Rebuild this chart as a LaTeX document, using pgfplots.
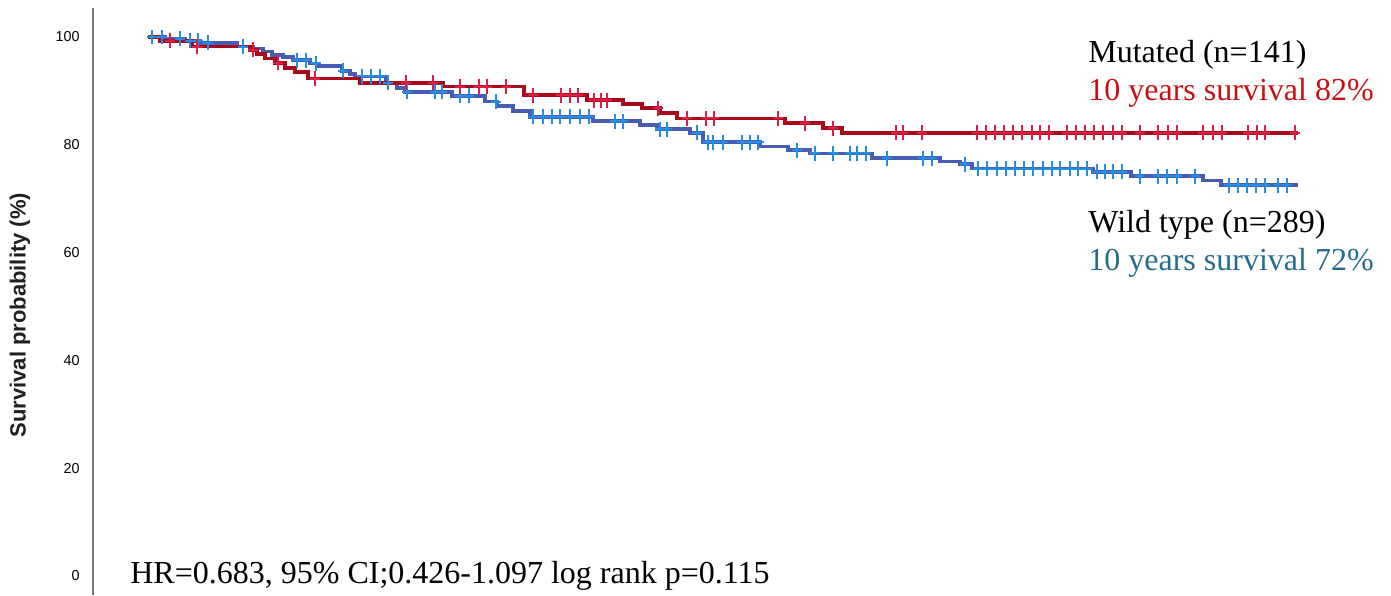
\documentclass[border=0pt]{standalone}
\usepackage{pgfplots}
\pgfplotsset{compat=1.18}
\usepackage{fontspec}
\setmainfont{Liberation Serif}
\newfontfamily\arial{Liberation Sans}

\definecolor{mutline}{RGB}{168,10,28}
\definecolor{mutmark}{RGB}{222,30,70}
\definecolor{wtline}{RGB}{72,92,180}
\definecolor{wtmark}{RGB}{36,142,230}
\definecolor{mutText}{RGB}{200,16,20}
\definecolor{wtText}{RGB}{36,108,140}
\definecolor{axisgray}{RGB}{120,120,120}

% Kaplan-Meier step functions (time in months, survival in %)
\pgfplotstableread{
t s
0 100
1.25 99.3
4.59 98.2
10.64 97.6
11.37 96.8
12.21 96.0
13.25 95.2
14.30 94.3
15.34 93.5
16.70 92.3
22.12 91.5
30.78 90.8
39.23 89.2
45.81 88.3
49.57 87.6
51.55 86.8
53.43 85.9
55.20 84.9
66.47 84.0
70.43 83.1
72.42 82.2
120 82.2
}\mutsteps

\pgfplotstableread{
t s
2.30 99.3
5.11 98.2
10.96 97.6
13.57 95.2
17.43 92.3
26.92 91.5
29.74 91.5
32.56 90.8
34.54 90.8
35.37 90.8
37.36 90.8
40.17 89.2
43.10 89.2
44.04 89.2
44.87 89.2
46.54 88.3
47.27 88.3
47.90 88.3
53.20 86.8
56.24 84.9
58.23 84.9
59.06 84.9
65.74 84.9
68.56 84.0
71.48 83.1
78.05 82.2
78.78 82.2
80.77 82.2
86.51 82.2
87.45 82.2
88.38 82.2
89.32 82.2
90.26 82.2
91.20 82.2
92.24 82.2
93.08 82.2
94.02 82.2
95.90 82.2
96.84 82.2
97.78 82.2
98.71 82.2
99.65 82.2
100.70 82.2
101.64 82.2
103.51 82.2
105.39 82.2
106.44 82.2
107.38 82.2
110.09 82.2
111.13 82.2
112.07 82.2
114.78 82.2
115.72 82.2
116.56 82.2
119.69 82.2
}\mutcens

\pgfplotstableread{
t s
0 100
1.77 99.7
3.86 99.3
5.43 98.9
9.29 98.2
10.96 97.9
12.00 97.3
12.94 96.7
14.09 96.3
15.13 95.7
16.90 95.1
17.74 94.6
20.24 93.7
21.08 93.1
21.60 92.7
24.84 91.5
25.98 90.5
26.82 89.8
31.72 89.1
35.17 88.0
36.42 87.2
38.09 86.3
39.86 85.2
46.44 84.4
51.34 83.7
53.11 82.9
56.56 82.2
57.91 80.5
63.86 79.7
66.78 79.0
69.08 78.4
75.55 77.5
82.64 76.9
84.73 76.4
85.98 75.6
98.61 75.0
102.58 74.2
110.09 73.4
111.97 72.5
120 72.5
}\wtsteps

\pgfplotstableread{
t s
0.42 100
1.46 100
3.34 99.7
4.38 99.3
5.22 99.3
6.26 98.9
9.91 98.2
15.55 95.7
16.49 95.7
17.53 95.1
20.35 93.7
22.33 92.7
23.27 92.7
24.21 92.7
25.04 91.5
27.03 89.8
29.95 89.8
30.68 89.8
32.56 89.1
33.50 89.1
36.30 88.0
40.17 85.2
41.22 85.2
42.16 85.2
42.99 85.2
44.04 85.2
45.08 85.2
46.02 85.2
48.73 84.4
49.57 84.4
53.43 82.9
54.16 82.9
57.29 82.2
58.44 80.5
58.96 80.5
60.00 80.5
61.98 80.5
62.82 80.5
63.70 80.5
67.72 79.0
69.60 78.4
71.48 78.4
73.25 78.4
73.98 78.4
74.92 78.4
77.11 77.5
80.87 77.5
81.81 77.5
85.25 76.4
86.61 75.6
87.55 75.6
88.59 75.6
89.53 75.6
90.47 75.6
91.41 75.6
92.35 75.6
93.39 75.6
94.33 75.6
95.17 75.6
96.21 75.6
97.04 75.6
97.98 75.6
99.03 75.0
99.86 75.0
100.70 75.0
101.64 75.0
103.51 74.2
105.39 74.2
106.33 74.2
107.38 74.2
109.25 74.2
112.80 72.5
113.74 72.5
114.68 72.5
115.62 72.5
116.56 72.5
117.92 72.5
118.85 72.5
}\wtcens

\begin{document}
\begin{tikzpicture}
\begin{axis}[
  scale only axis,
  width=649pt, height=293.5pt,
  xmin=-5.74, xmax=129.71,
  ymin=-3.525, ymax=105.38,
  axis x line=none,
  axis y line*=left,
  y axis line style={draw=axisgray, line width=0.8pt},
  ytick={0,20,40,60,80,100},
  major tick length=0pt,
  /pgf/number format/assume math mode=true,
  yticklabel style={font=\arial\fontsize{7.2}{8}\selectfont, inner sep=0pt, anchor=east, xshift=-6.5pt},
  clip=false,
]
\coordinate (bl) at (rel axis cs:0,0);
\coordinate (tr) at (rel axis cs:1,1);

\addplot[const plot, wtline, line width=1.8pt] table[x=t, y=s] {\wtsteps};
\addplot[const plot, mutline, line width=1.8pt] table[x=t, y=s] {\mutsteps};
\addplot[only marks, mark=+, mark size=3.4pt, mark options={wtmark, line width=1pt, xscale=0.75, yscale=1.1}] table[x=t, y=s] {\wtcens};
\addplot[only marks, mark=+, mark size=3.4pt, mark options={mutmark, line width=1pt, xscale=0.75, yscale=1.1}] table[x=t, y=s] {\mutcens};

\node[anchor=base west, inner sep=0pt, font=\fontsize{16}{19}\selectfont] at (axis cs:98.09,95.18) {Mutated (n=141)};
\node[anchor=base west, inner sep=0pt, font=\fontsize{16}{19}\selectfont, text=mutText] at (axis cs:98.09,88.31) {10 years survival 82\%};
\node[anchor=base west, inner sep=0pt, font=\fontsize{16}{19}\selectfont] at (axis cs:98.09,63.82) {Wild type (n=289)};
\node[anchor=base west, inner sep=0pt, font=\fontsize{16}{19}\selectfont, text=wtText] at (axis cs:98.09,56.59) {10 years survival 72\%};
\node[anchor=base west, inner sep=0pt, font=\fontsize{16}{19}\selectfont] at (axis cs:-1.88,-1.48) {HR=0.683, 95\% CI;0.426-1.097 log rank p=0.115};

\node[rotate=90, inner sep=0pt, font=\arial\bfseries\fontsize{11}{12}\selectfont, text=black!88] at ([xshift=-36.5pt]axis cs:-5.74,48.4) {Survival probability (\%)};
\end{axis}
\pgfresetboundingbox
\path ([xshift=-46.5pt]bl) rectangle ([yshift=4pt]tr);
\end{tikzpicture}
\end{document}
